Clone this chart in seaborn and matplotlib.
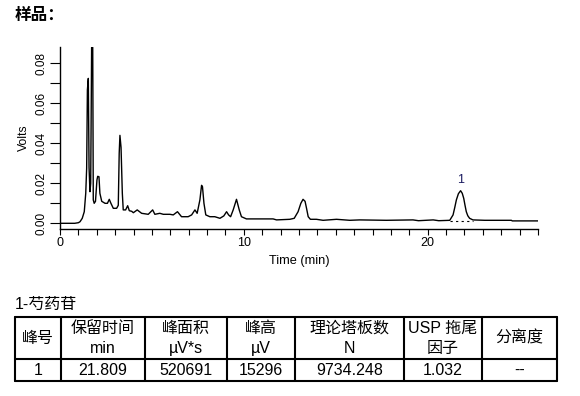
import matplotlib
matplotlib.use("Agg")
import matplotlib.pyplot as plt
import seaborn as sns
import pandas as pd
from matplotlib.ticker import MultipleLocator, FormatStrFormatter
from matplotlib.lines import Line2D

# ---------------- data ----------------
time_min = [0, 0.8, 1.0, 1.09, 1.21, 1.32, 1.40, 1.45, 1.49, 1.54,
            1.58, 1.63, 1.67, 1.72, 1.78, 1.81, 1.86, 1.93, 2.01, 2.05,
            2.12, 2.17, 2.27, 2.45, 2.58, 2.68, 2.77, 2.90, 3.08, 3.17,
            3.22, 3.26, 3.32, 3.39, 3.44, 3.57, 3.68, 3.77, 3.90, 3.99,
            4.2, 4.44, 4.8, 5.04, 5.16, 5.43, 5.62, 5.98, 6.16, 6.39,
            6.61, 6.97, 7.16, 7.34, 7.46, 7.61, 7.70, 7.75, 7.83, 7.93,
            8.15, 8.42, 8.70, 8.91, 9.06, 9.17, 9.28, 9.42, 9.6, 9.75,
            9.87, 10.14, 10.69, 11.59, 11.78, 12.5, 12.74, 12.95, 13.1, 13.22,
            13.33, 13.41, 13.5, 13.62, 13.95, 14.31, 15.04, 15.76, 16.3, 17.75,
            19.2, 19.5, 20.3, 20.6, 21.2, 21.38, 21.47, 21.56, 21.67, 21.79,
            21.88, 21.96, 22.03, 22.1, 22.18, 22.28, 22.46, 23.1, 24.55, 24.6,
            26.0]
volts = [0, 0, 0.0003, 0.0008, 0.0025, 0.0058, 0.015, 0.0275, 0.0667, 0.0725,
         0.028, 0.0158, 0.020, 0.088, 0.088, 0.0117, 0.010, 0.011, 0.0217, 0.0235,
         0.0233, 0.015, 0.011, 0.010, 0.010, 0.012, 0.010, 0.0075, 0.0075, 0.009,
         0.035, 0.044, 0.038, 0.015, 0.0067, 0.0067, 0.0088, 0.0063, 0.006, 0.0053,
         0.0067, 0.005, 0.0045, 0.0067, 0.0045, 0.005, 0.0045, 0.0045, 0.0042, 0.0058,
         0.0033, 0.0033, 0.0042, 0.0067, 0.005, 0.0117, 0.019, 0.0183, 0.010, 0.0042,
         0.0033, 0.0033, 0.0025, 0.0037, 0.0058, 0.0042, 0.0033, 0.0067, 0.0120, 0.0067,
         0.0033, 0.0022, 0.0022, 0.0022, 0.0017, 0.002, 0.0025, 0.0058, 0.010, 0.012,
         0.011, 0.0075, 0.0033, 0.002, 0.002, 0.0015, 0.002, 0.0015, 0.0017, 0.0015,
         0.0017, 0.0013, 0.0017, 0.0013, 0.0015, 0.0042, 0.0078, 0.0117, 0.0148, 0.0163,
         0.0150, 0.0125, 0.0090, 0.0058, 0.0038, 0.0025, 0.0017, 0.0015, 0.0015, 0.0012,
         0.0012]

peak_label = "1"
peak_time = 21.79
peak_height = 0.0163
peak_base_start = [21.2, 22.46]
peak_base_level = [0.0013, 0.0013]

title_text = "样品："
compound_text = "1-芍药苷"
header_row = ["峰号", "保留时间\nmin", "峰面积\nµV*s", "峰高\nµV",
              "理论塔板数\nN", "USP 拖尾\n因子", "分离度"]
data_row = ["1", "21.809", "520691", "15296", "9734.248", "1.032", "--"]

# ---------------- figure ----------------
sns.set_theme(style="ticks")
plt.rcParams["font.family"] = ["Liberation Sans", "Noto Sans CJK SC", "DejaVu Sans"]

W, H = 580, 396
fig = plt.figure(figsize=(W / 100, H / 100), dpi=100)
fig.patch.set_facecolor("white")

def fx(px):
    return px / W

def fy(py):
    return 1 - py / H

ax = fig.add_axes([fx(60), fy(229), fx(538) - fx(60), fy(47) - fy(229)])
ax.set_facecolor("white")

df = pd.DataFrame({"Time (min)": time_min, "Volts": volts})
sns.lineplot(data=df, x="Time (min)", y="Volts", ax=ax, color="black",
             linewidth=1.0, estimator=None, sort=False)
ax.plot(peak_base_start, peak_base_level, color="black", linewidth=0.8,
        linestyle=(0, (2, 3)))
ax.text(peak_time, peak_height + 0.0025, peak_label, ha="center", va="bottom",
        fontsize=9, color="#1a1a60")

ax.set_xlim(0, 26)
ax.set_ylim(-0.00285, 0.0882)
ax.xaxis.set_major_locator(MultipleLocator(10))
ax.xaxis.set_minor_locator(MultipleLocator(1))
ax.yaxis.set_major_locator(MultipleLocator(0.02))
ax.yaxis.set_minor_locator(MultipleLocator(0.01))
ax.yaxis.set_major_formatter(FormatStrFormatter("%.2f"))

for s in ["top", "right"]:
    ax.spines[s].set_visible(False)
for s in ["left", "bottom"]:
    ax.spines[s].set_color("black")
    ax.spines[s].set_linewidth(1.0)

ax.tick_params(axis="x", which="both", direction="out", length=4, width=0.8,
               colors="black", labelsize=9, pad=2)
ax.tick_params(axis="y", which="both", direction="out", length=7, width=0.8,
               colors="black", labelsize=8.5, pad=2)
for lab in ax.get_yticklabels():
    lab.set_rotation(90)
    lab.set_va("center")
ax.set_xlabel("Time (min)", fontsize=9.2, color="black", labelpad=4)
ax.set_ylabel("Volts", fontsize=8.8, color="black", labelpad=4)

# ---------------- title and table ----------------
fig.text(fx(15), fy(15), title_text, ha="left", va="center", fontsize=12,
         fontweight="bold", color="black")
fig.text(fx(15), fy(304), compound_text, ha="left", va="center", fontsize=11.5,
         color="black")

col_x = [15, 61, 145, 227, 295, 404, 482, 557]
row_y = [317, 359, 381]
lw = 1.5
for x in col_x:
    fig.add_artist(Line2D([fx(x), fx(x)], [fy(row_y[0]), fy(row_y[-1])],
                          transform=fig.transFigure, color="black", linewidth=lw))
for y in row_y:
    fig.add_artist(Line2D([fx(col_x[0]), fx(col_x[-1])], [fy(y), fy(y)],
                          transform=fig.transFigure, color="black", linewidth=lw))

fs = 11.5
for i, txt in enumerate(header_row):
    cx = (col_x[i] + col_x[i + 1]) / 2
    lines = txt.split("\n")
    if len(lines) == 1:
        fig.text(fx(cx), fy(338), lines[0], ha="center", va="center",
                 fontsize=fs, color="black")
    else:
        fig.text(fx(cx), fy(328.5), lines[0], ha="center", va="center",
                 fontsize=fs, color="black")
        fig.text(fx(cx), fy(348.5), lines[1], ha="center", va="center",
                 fontsize=fs, color="black")
    fig.text(fx(cx), fy(370.5), data_row[i], ha="center", va="center",
             fontsize=fs, color="black")

fig.savefig("out.png", dpi=100, facecolor="white")
